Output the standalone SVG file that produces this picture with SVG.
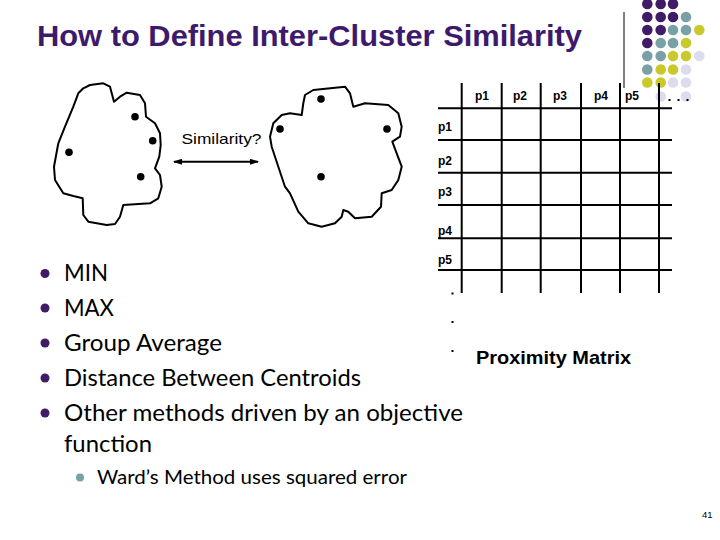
<svg xmlns="http://www.w3.org/2000/svg" width="720" height="540" viewBox="0 0 720 540">
<defs>
<marker id="ah" markerWidth="9" markerHeight="6" refX="8" refY="3" orient="auto-start-reverse" markerUnits="userSpaceOnUse"><path d="M0,0 L9,3 L0,6 z" fill="#000"/></marker>
<style>
.title{font-family:"Liberation Sans",Arial,sans-serif;font-weight:bold;font-size:30px;fill:#3d1a6b}
.blob{fill:#fff;stroke:#000;stroke-width:2;stroke-linejoin:round}
.pt{fill:#000}
.lbl{font-family:"Liberation Sans",Arial,sans-serif;font-weight:bold;font-size:12px;fill:#000}
.grid{stroke:#000;stroke-width:2}
.bt{font-family:Lato,"Open Sans",sans-serif;font-size:24px;fill:#000}
.st{font-family:Lato,"Open Sans",sans-serif;font-size:20px;fill:#000}
.pu{fill:#3f1b68}.te{fill:#79a0a4}.ye{fill:#c9c92c}.la{fill:#dcdcee}
</style>
</defs>
<rect width="720" height="540" fill="#fff"/>

<g id="title"><text class="title" x="37" y="46" textLength="545" lengthAdjust="spacingAndGlyphs">How to Define Inter-Cluster Similarity</text></g>

<g id="decor-dots">
<circle class="pu" cx="647.3" cy="4" r="5.3"/><circle class="pu" cx="660.7" cy="4" r="5.3"/><circle class="pu" cx="673" cy="4" r="5.3"/>
<circle class="pu" cx="647.3" cy="17" r="5.3"/><circle class="pu" cx="660.7" cy="17" r="5.3"/><circle class="pu" cx="673" cy="17" r="5.3"/><circle class="te" cx="686" cy="17" r="5.3"/>
<circle class="pu" cx="647.3" cy="30" r="5.3"/><circle class="pu" cx="660.7" cy="30" r="5.3"/><circle class="te" cx="673" cy="30" r="5.3"/><circle class="te" cx="686" cy="30" r="5.3"/><circle class="ye" cx="699.3" cy="30" r="5.3"/>
<circle class="pu" cx="647.3" cy="43" r="5.3"/><circle class="te" cx="660.7" cy="43" r="5.3"/><circle class="te" cx="673" cy="43" r="5.3"/><circle class="ye" cx="686" cy="43" r="5.3"/>
<circle class="te" cx="647.3" cy="56" r="5.3"/><circle class="te" cx="660.7" cy="56" r="5.3"/><circle class="ye" cx="673" cy="56" r="5.3"/><circle class="ye" cx="686" cy="56" r="5.3"/><circle class="la" cx="699.3" cy="56" r="5.3"/>
<circle class="te" cx="647.3" cy="69.5" r="5.3"/><circle class="ye" cx="660.7" cy="69.5" r="5.3"/><circle class="ye" cx="673" cy="69.5" r="5.3"/><circle class="la" cx="686" cy="69.5" r="5.3"/>
<circle class="ye" cx="647.3" cy="82.5" r="5.3"/><circle class="ye" cx="660.7" cy="82.5" r="5.3"/><circle class="la" cx="673" cy="82.5" r="5.3"/><circle class="la" cx="686" cy="82.5" r="5.3"/>
<circle class="la" cx="660.7" cy="96.5" r="5.3"/><circle class="la" cx="686" cy="96.5" r="5.3"/>
<line x1="624" y1="12" x2="624" y2="88" stroke="#000" stroke-width="1"/>
</g>

<g id="cluster1">
<path class="blob" d="M83.3,88.3 L90,85 L103.3,83.3 L110,86.7 L114,101.7 L120,96.7 L126.7,92.7 L140,95 L145,103.3 L146,116.7 L155,123.3 L160,133.3 L160.7,145 L159.3,156.7 L155,168.3 L160,175 L161.7,186.7 L158.3,198.3 L150,203.3 L123.3,205 L120,216.7 L115,224 L106.7,225 L88.3,221.7 L83.3,215 L82.7,198.3 L73.3,196 L63.3,193.3 L55,180 L54,166.7 L58.3,143.3 L65,126.7 L73.3,106.7 L78.3,93.3 Z"/>
<circle class="pt" cx="135" cy="116.7" r="3.8"/>
<circle class="pt" cx="152.7" cy="140.7" r="3.8"/>
<circle class="pt" cx="69" cy="152.3" r="3.8"/>
<circle class="pt" cx="140.7" cy="176.7" r="3.8"/>
</g>

<g id="cluster2">
<path class="blob" d="M305,95 L313.3,90 L345,86.7 L350,93.3 L353.3,106.7 L365,103.3 L388.3,105 L398.3,113.3 L401.7,126.7 L400,136.7 L392.3,141.7 L396.7,153.3 L401.7,166.7 L398.3,180 L391.7,190 L381.7,193.3 L381,206.7 L371.7,216.7 L355,218.3 L348.3,211.7 L343.3,210 L341.7,216.7 L335,223.3 L321.7,226.7 L308.3,223.3 L298.3,211.7 L290,193.3 L285,186.7 L278.3,166.7 L271.7,146.7 L270,136.7 L273.3,123.3 L281.7,115 L290,113.3 L301.7,115 L303.3,103.3 Z"/>
<circle class="pt" cx="321" cy="99" r="3.8"/>
<circle class="pt" cx="280" cy="129" r="3.8"/>
<circle class="pt" cx="387" cy="129" r="3.8"/>
<circle class="pt" cx="321" cy="176.7" r="3.8"/>
</g>

<g id="similarity-label"><text x="181.5" y="144" font-family="Liberation Sans, Arial, sans-serif" font-size="15" textLength="80" lengthAdjust="spacingAndGlyphs">Similarity?</text></g>

<g id="connectors">
<line x1="174" y1="161.7" x2="258" y2="161.7" stroke="#000" stroke-width="2" marker-start="url(#ah)" marker-end="url(#ah)"/>
</g>

<g id="matrix">
<g class="grid">
<line x1="461.7" y1="83" x2="461.7" y2="293"/>
<line x1="501.7" y1="83" x2="501.7" y2="293"/>
<line x1="540.7" y1="83" x2="540.7" y2="293"/>
<line x1="581" y1="83" x2="581" y2="293"/>
<line x1="620" y1="83" x2="620" y2="293"/>
<line x1="659" y1="83" x2="659" y2="293"/>
<line x1="438" y1="108.3" x2="672" y2="108.3"/>
<line x1="438" y1="140" x2="672" y2="140"/>
<line x1="438" y1="172.7" x2="672" y2="172.7"/>
<line x1="438" y1="205" x2="672" y2="205"/>
<line x1="438" y1="238.3" x2="672" y2="238.3"/>
<line x1="438" y1="270" x2="672" y2="270"/>
</g>
<text class="lbl" x="475" y="100">p1</text>
<text class="lbl" x="513" y="100">p2</text>
<text class="lbl" x="553" y="100">p3</text>
<text class="lbl" x="594" y="100">p4</text>
<text class="lbl" x="625" y="100">p5</text>
<text class="lbl" x="438" y="131">p1</text>
<text class="lbl" x="438" y="165">p2</text>
<text class="lbl" x="438" y="196">p3</text>
<text class="lbl" x="438" y="235">p4</text>
<text class="lbl" x="438" y="264">p5</text>
<rect x="668.5" y="99" width="2" height="2" fill="#000"/>
<rect x="677.5" y="99" width="2" height="2" fill="#000"/>
<rect x="686.5" y="99" width="2" height="2" fill="#000"/>
<rect x="451.5" y="292.5" width="2" height="2" fill="#000"/>
<rect x="451.5" y="321" width="2" height="2" fill="#000"/>
<rect x="451.5" y="350" width="2" height="2" fill="#000"/>
<text x="476" y="364" font-family="Liberation Sans, Arial, sans-serif" font-weight="bold" font-size="19" textLength="155" lengthAdjust="spacingAndGlyphs">Proximity Matrix</text>
</g>

<g id="bullets">
<circle class="pu" cx="45" cy="273.5" r="4.5"/>
<circle class="pu" cx="45" cy="308" r="4.5"/>
<circle class="pu" cx="45" cy="343" r="4.5"/>
<circle class="pu" cx="45" cy="378" r="4.5"/>
<circle class="pu" cx="45" cy="413" r="4.5"/>
<circle class="te" cx="80" cy="477.5" r="4"/>
<text class="bt" x="64" y="281" textLength="44" lengthAdjust="spacingAndGlyphs">MIN</text>
<text class="bt" x="64" y="316" textLength="50" lengthAdjust="spacingAndGlyphs">MAX</text>
<text class="bt" x="64" y="351" textLength="158" lengthAdjust="spacingAndGlyphs">Group Average</text>
<text class="bt" x="64" y="386" textLength="297" lengthAdjust="spacingAndGlyphs">Distance Between Centroids</text>
<text class="bt" x="64" y="421" textLength="399" lengthAdjust="spacingAndGlyphs">Other methods driven by an objective</text>
<text class="bt" x="64" y="452" textLength="88" lengthAdjust="spacingAndGlyphs">function</text>
<text class="st" x="97" y="483.5" textLength="310" lengthAdjust="spacingAndGlyphs">Ward’s Method uses squared error</text>
</g>

<g id="page-number"><text x="702" y="517.5" font-family="Liberation Sans, Arial, sans-serif" font-size="9.5">41</text></g>
</svg>
